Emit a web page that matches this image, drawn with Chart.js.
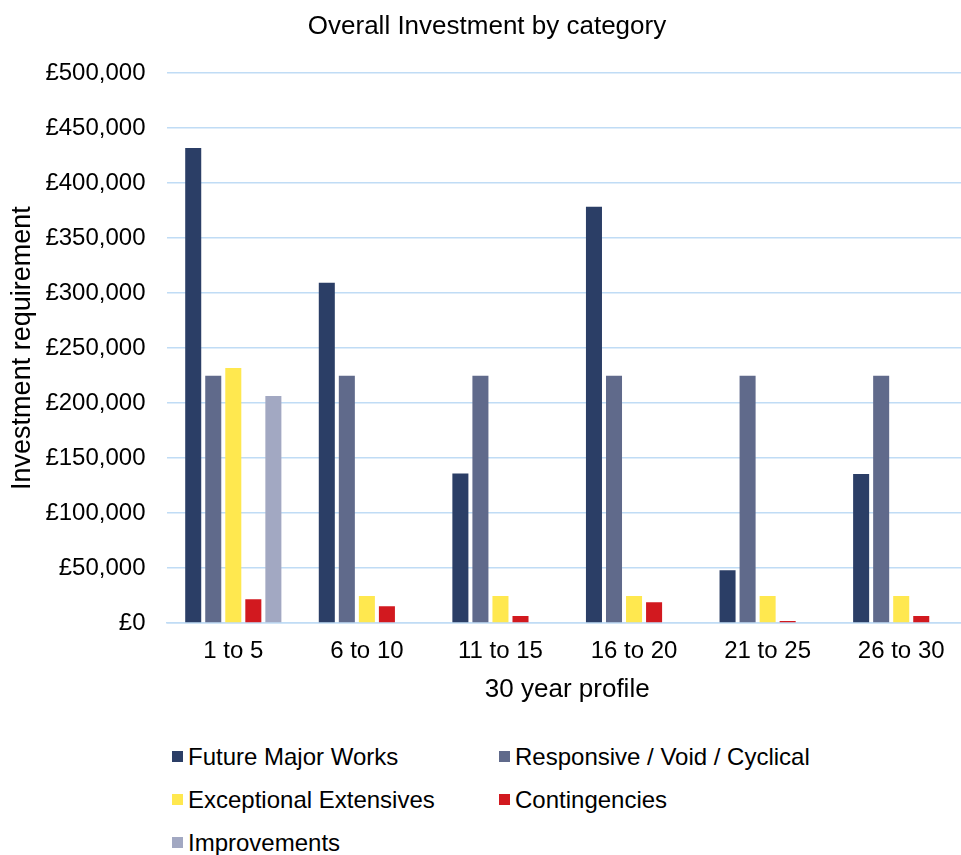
<!DOCTYPE html>
<html>
<head>
<meta charset="utf-8">
<script src="https://cdn.jsdelivr.net/npm/chart.js@4"></script>
<style>
  body { margin: 0; background: #fff; overflow: hidden; font-family: "Liberation Sans", Arial, sans-serif; }
  #wrap { position: absolute; left: 0; top: 0; width: 968px; height: 705px; }
  #legend { position: absolute; left: 172px; top: 742px; display: grid; grid-template-columns: 327px 340px; row-gap: 14px; }
  .item { display: flex; align-items: center; font-size: 24px; line-height: 29px; color: #000; }
  .box { width: 11px; height: 11px; margin-right: 5px; flex: none; }
</style>
</head>
<body>
<div id="wrap"><canvas id="chart"></canvas></div>
<div id="legend"></div>
<script>
// 30 year profile, five-year bands
const periods = ["1 to 5", "6 to 10", "11 to 15", "16 to 20", "21 to 25", "26 to 30"];

// investment per band (£)
const futureMajorWorks = [432000, 309500, 136000, 378500, 48000, 135500];
const responsiveVoidCyclical = [224800, 224800, 224800, 224800, 224800, 224800];
const exceptionalExtensives = [232000, 24500, 24500, 24500, 24500, 24500];
const contingencies = [21500, 15200, 6400, 18800, 1800, 6400];
const improvements = [206500, 0, 0, 0, 0, 0];

const seriesNames = ["Future Major Works", "Responsive / Void / Cyclical", "Exceptional Extensives", "Contingencies", "Improvements"];
const seriesColors = ["#2b3e66", "#606a8b", "#ffe84f", "#d2191f", "#a2a8c2"];
const seriesValues = [futureMajorWorks, responsiveVoidCyclical, exceptionalExtensives, contingencies, improvements];

const yTicks = { min: 0, max: 500000, step: 50000 };

Chart.defaults.font.family = '"Liberation Sans", Arial, sans-serif';
Chart.defaults.color = "#000";

const chart = new Chart(document.getElementById("chart").getContext("2d"), {
    type: 'bar',
    data: {
        labels: periods,
        datasets: seriesNames.map((name, i) => ({
            label: name,
            data: seriesValues[i],
            backgroundColor: seriesColors[i],
            categoryPercentage: 0.75,
            barPercentage: 0.8
        }))
    },
    options: {
        responsive: true,
        maintainAspectRatio: false,
        animation: false,
        layout: { padding: { left: 6, right: 0, top: 0, bottom: 0 } },
        plugins: {
            legend: { display: false },
            tooltip: { enabled: false },
            title: {
                display: true,
                text: "Overall Investment by category",
                font: { size: 26, weight: 'normal' },
                padding: { top: 11, bottom: 31 }
            }
        },
        scales: {
            x: {
                grid: { display: false, drawTicks: false },
                border: { display: true, color: "#c0dcf5", width: 1.5 },
                ticks: { font: { size: 24 }, padding: 14 },
                title: {
                    display: true,
                    text: "30 year profile",
                    font: { size: 26 },
                    padding: { top: -6, bottom: 0 }
                }
            },
            y: {
                min: yTicks.min,
                max: yTicks.max,
                grid: { color: "#c0dcf5", lineWidth: 1.5, drawTicks: false },
                border: { display: false },
                ticks: {
                    stepSize: yTicks.step,
                    font: { size: 24 },
                    padding: 21,
                    callback: v => "£" + Number(v).toLocaleString("en-GB")
                },
                title: {
                    display: true,
                    text: "Investment requirement",
                    font: { size: 27 },
                    padding: { top: 0, bottom: 6 }
                },
                afterFit: scale => { scale.width -= 20; }
            }
        }
    }
});

// legend in two columns, like the original
const legendDiv = document.getElementById("legend");
chart.data.datasets.forEach(ds => {
    legendDiv.innerHTML += `
        <div class="item"><span class="box" style="background:${ds.backgroundColor}"></span>${ds.label}</div>
    `;
});
</script>
</body>
</html>
